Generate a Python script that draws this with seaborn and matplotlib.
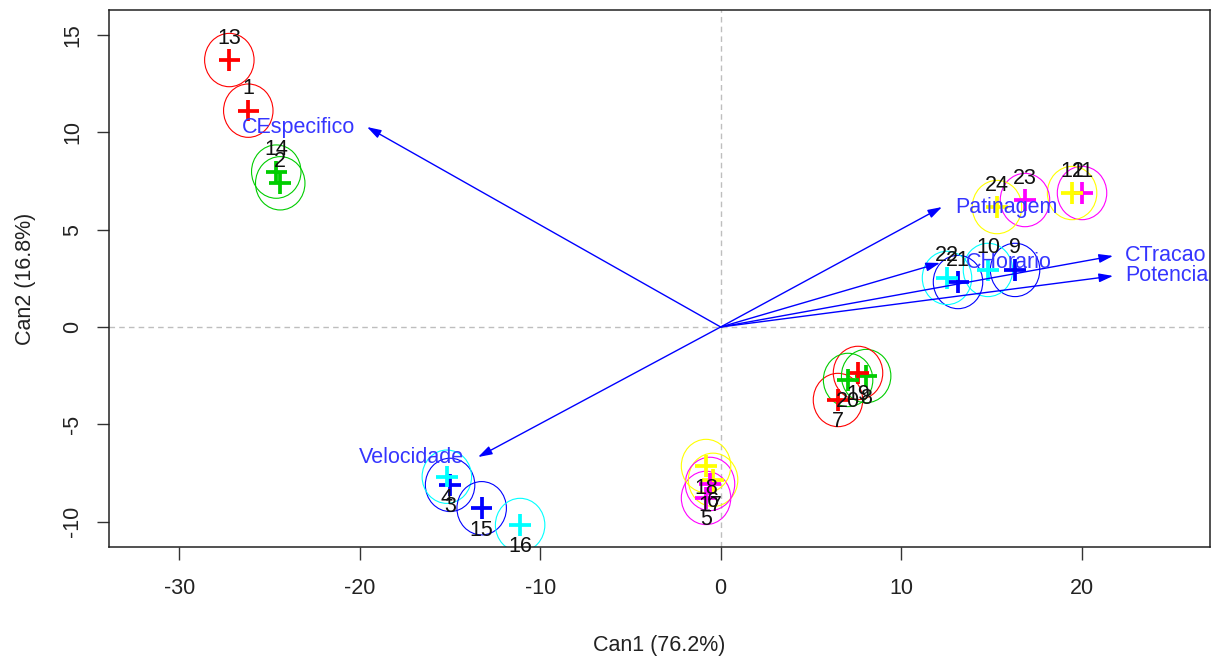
import matplotlib
matplotlib.use("Agg")
import matplotlib.pyplot as plt
from matplotlib.patches import Circle
import seaborn as sns
import pandas as pd

# ---------------- data ----------------
obs = ["1", "2", "3", "4", "5", "6", "7", "8", "9", "10", "11", "12",
       "13", "14", "15", "16", "17", "18", "19", "20", "21", "22", "23", "24"]
grupo = ["G1", "G2", "G3", "G4", "G5", "G6", "G1", "G2", "G3", "G4", "G5", "G6",
         "G1", "G2", "G3", "G4", "G5", "G6", "G1", "G2", "G3", "G4", "G5", "G6"]
can1 = [-26.17, -24.40, -14.99, -15.17, -0.81, -0.42, 6.50, 8.06, 16.31, 14.81, 20.02, 19.47,
        -27.22, -24.62, -13.24, -11.11, -0.59, -0.81, 7.61, 7.06, 13.15, 12.54, 16.86, 15.31]
can2 = [11.11, 7.38, -8.11, -7.69, -8.78, -7.85, -3.75, -2.52, 2.93, 2.93, 6.88, 6.88,
        13.71, 7.98, -9.31, -10.17, -8.06, -7.14, -2.36, -2.72, 2.31, 2.52, 6.52, 6.16]

variaveis = ["CEspecifico", "Velocidade", "Patinagem", "CHorario", "CTracao", "Potencia"]
vec1 = [-19.59, -13.44, 12.26, 12.15, 21.74, 21.74]
vec2 = [10.27, -6.68, 6.16, 3.29, 3.65, 2.62]

xlabel = "Can1 (76.2%)"
ylabel = "Can2 (16.8%)"
xticks = [-30, -20, -10, 0, 10, 20]
yticks = [-10, -5, 0, 5, 10, 15]

# ---------------- style ----------------
palette = {"G1": "#FF0000", "G2": "#00CD00", "G3": "#0000FF",
           "G4": "#00FFFF", "G5": "#FF00FF", "G6": "#FFFF00"}
circle_r = 1.37
var_label_dx = [-12, -14, 13, 26, 12, 12]  # pixel offsets of arrow labels
FS = 15.5

sns.set_theme(style="white")
plt.rcParams["font.family"] = ["Liberation Sans", "DejaVu Sans"]
plt.rcParams["axes.unicode_minus"] = False

df = pd.DataFrame({"obs": obs, "grupo": grupo, "Can1": can1, "Can2": can2})

W, H = 1211, 657
fig = plt.figure(figsize=(W / 100, H / 100), dpi=100)
ax_l, ax_r, ax_t, ax_b = 109.3, 1210.0, 10.0, 547.0
ax = fig.add_axes([ax_l / W, (H - ax_b) / H, (ax_r - ax_l) / W, (ax_b - ax_t) / H])

ax.set_xlim(-33.87, 27.11)
ax.set_ylim(-11.30, 16.28)

# reference lines
ax.axvline(0, color="#BEBEBE", lw=1.0, ls=(0, (4, 3)), zorder=1)
ax.axhline(0, color="#BEBEBE", lw=1.0, ls=(0, (4, 3)), zorder=1)

# circles
for x, y, g in zip(can1, can2, grupo):
    ax.add_patch(Circle((x, y), circle_r, fill=False, edgecolor=palette[g], lw=0.8, zorder=2))

# crosses
sns.scatterplot(data=df, x="Can1", y="Can2", hue="grupo", palette=palette,
                marker="+", s=240, linewidth=2.7, legend=False, ax=ax, zorder=3)

# point labels
for lab, x, y in zip(obs, can1, can2):
    dy = 22 if y > 0 else -22
    ax.annotate(lab, (x, y), xytext=(0, dy), textcoords="offset pixels",
                ha="center", va="center", fontsize=FS, color="#111111", zorder=4)

# structure vectors
for name, vx, vy, dx in zip(variaveis, vec1, vec2, var_label_dx):
    ax.annotate("", xy=(vx, vy), xytext=(0, 0),
                arrowprops=dict(arrowstyle="-|>,head_length=0.7,head_width=0.22",
                                color="#0000FF", lw=1.0, shrinkA=0, shrinkB=0),
                zorder=5)
    ax.annotate(name, (vx, vy), xytext=(dx, 0), textcoords="offset pixels",
                ha="right" if vx < 0 else "left", va="center",
                fontsize=FS, color="#3535FF", zorder=6)

# axes styling (R-like)
for sp in ax.spines.values():
    sp.set_visible(True)
    sp.set_color("#222222")
    sp.set_linewidth(1.1)
ax.set_xticks(xticks)
ax.set_yticks(yticks)
ax.tick_params(axis="both", direction="out", length=9, width=1.0, color="#333333",
               labelsize=FS, labelcolor="#222222", bottom=True, left=True)
ax.tick_params(axis="x", pad=13)
ax.tick_params(axis="y", pad=10)
for t in ax.get_yticklabels():
    t.set_rotation(90)
    t.set_va("center")
    t.set_ha("right")
    t.set_rotation_mode("default")

ax.set_xlabel(xlabel, fontsize=FS, color="#222222")
ax.set_ylabel(ylabel, fontsize=FS, color="#222222")
ax.xaxis.label.set_va("center")
ax.yaxis.label.set_va("center")
ax.xaxis.set_label_coords(0.5, -98 / (ax_b - ax_t))
ax.yaxis.set_label_coords(-84 / (ax_r - ax_l), 0.5)
ax.grid(False)

fig.savefig("out.png", dpi=100)
